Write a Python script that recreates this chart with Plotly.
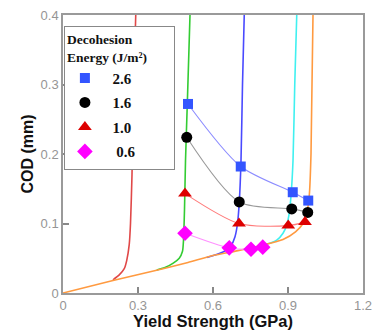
import plotly.graph_objects as go

# Critical curves (COD vs yield strength)
red_x = [0.2, 0.225, 0.245, 0.255, 0.265, 0.27, 0.276, 0.283, 0.291]
red_y = [0.019, 0.026, 0.035, 0.047, 0.07, 0.1, 0.17, 0.3, 0.4]
green_x = [0.375, 0.41, 0.441, 0.465, 0.478, 0.482, 0.486, 0.49, 0.497, 0.508]
green_y = [0.033, 0.037, 0.043, 0.05, 0.06, 0.076, 0.12, 0.19, 0.27, 0.4]
blue_x = [0.575, 0.62, 0.65, 0.672, 0.688, 0.698, 0.705, 0.712, 0.718, 0.725]
blue_y = [0.051, 0.056, 0.061, 0.068, 0.081, 0.1, 0.13, 0.19, 0.3, 0.4]
cyan_x = [0.8, 0.83, 0.855, 0.88, 0.895, 0.905, 0.912, 0.92, 0.927, 0.935]
cyan_y = [0.069, 0.072, 0.076, 0.086, 0.098, 0.115, 0.14, 0.19, 0.3, 0.4]
orange_x = [0, 0.2, 0.4, 0.5, 0.6, 0.7, 0.8, 0.88, 0.93, 0.96, 0.975, 0.985, 0.992, 1.0]
orange_y = [0, 0.018, 0.035, 0.044, 0.054, 0.061, 0.069, 0.077, 0.088, 0.1, 0.115, 0.14, 0.2, 0.4]

# Decohesion energy series
e26_x = [0.50, 0.711, 0.919, 0.981]
e26_y = [0.272, 0.182, 0.145, 0.133]
e16_x = [0.495, 0.705, 0.915, 0.979]
e16_y = [0.224, 0.131, 0.121, 0.116]
e10_x = [0.488, 0.704, 0.901, 0.968]
e10_y = [0.143, 0.1, 0.097, 0.102]
e06_x = [0.488, 0.665, 0.752, 0.799]
e06_y = [0.086, 0.065, 0.063, 0.066]

x_ticks = [0, 0.3, 0.6, 0.9, 1.2]
x_tick_text = ["0", "0.3", "0.6", "0.9", "1.2"]
y_ticks = [0, 0.1, 0.2, 0.3, 0.4]
y_tick_text = ["0", "0.1", "0.2", "0.3", "0.4"]

fig = go.Figure()

for xs, ys, col in [(red_x, red_y, "#e04848"), (green_x, green_y, "#33cc33"),
                    (blue_x, blue_y, "#4a4aff"), (cyan_x, cyan_y, "#40f0f0"),
                    (orange_x, orange_y, "#ff9a40")]:
    fig.add_trace(go.Scatter(x=xs, y=ys, mode="lines", line=dict(color=col, width=1.6, shape="spline", smoothing=0.6),
                             showlegend=False, hoverinfo="skip"))

series = [
    ("2.6", e26_x, e26_y, "#3355ff", "#8c8cff", "square", 10),
    ("1.6", e16_x, e16_y, "#000000", "#999999", "circle", 11),
    ("1.0", e10_x, e10_y, "#dd0000", "#ff7a7a", "triangle-up", 12),
    ("0.6", e06_x, e06_y, "#ff00ff", "#ff90ff", "diamond", 12),
]
for name, xs, ys, mc, lc, sym, sz in series:
    fig.add_trace(go.Scatter(x=xs, y=ys, mode="lines", line=dict(color=lc, width=1.1, shape="spline", smoothing=0.8),
                             showlegend=False, hoverinfo="skip"))
pad = "&nbsp;" * 9
for i, (name, xs, ys, mc, lc, sym, sz) in enumerate(series):
    lead = "&nbsp;&nbsp;&nbsp;" if name == "0.6" else "&nbsp;&nbsp;"
    fig.add_trace(go.Scatter(x=xs, y=ys, mode="markers", name="<b>" + lead + name + "</b>" + pad,
                             marker=dict(color=mc, symbol=sym, size=sz, line=dict(width=0)),
                             legendgroup="g%d" % i, legendrank=i + 1))

axis_common = dict(showgrid=False, zeroline=False, showline=True, linecolor="#9a9a9a", linewidth=1.5,
                   mirror=True, ticks="inside", ticklen=6, tickcolor="#888888", tickwidth=1.5,
                   automargin=False,
                   tickfont=dict(family="Liberation Sans, Arial", size=13, color="#959595"))

fig.update_layout(
    width=374, height=330,
    margin=dict(l=63, r=11, t=15, b=37),
    plot_bgcolor="white", paper_bgcolor="white",
    xaxis=dict(range=[0, 1.2], tickvals=x_ticks, ticktext=x_tick_text,
               title=dict(text="<b>Yield Strength (GPa)</b>", standoff=0,
                          font=dict(family="Liberation Sans, Arial", size=16.5, color="#111111")),
               **axis_common),
    yaxis=dict(range=[0, 0.4], tickvals=y_ticks, ticktext=y_tick_text,
               title=dict(text="<b>COD (mm)</b>", standoff=3,
                          font=dict(family="Liberation Sans, Arial", size=16, color="#111111")),
               **axis_common),
    legend=dict(x=0.003, y=0.962, xanchor="left", yanchor="top", bgcolor="white",
                bordercolor="#888888", borderwidth=1, traceorder="grouped", tracegroupgap=2,
                font=dict(family="Liberation Serif, Times New Roman", size=15, color="#111111"),
                title=dict(text="<b>Decohesion<br>Energy (J/m²)</b>",
                           font=dict(family="Liberation Serif, Times New Roman", size=13.5, color="#111111")),
                itemwidth=30),
)
fig.write_html("out.html", config={"displayModeBar": False},
               post_script="document.body.style.margin='0';document.body.style.padding='0';")
